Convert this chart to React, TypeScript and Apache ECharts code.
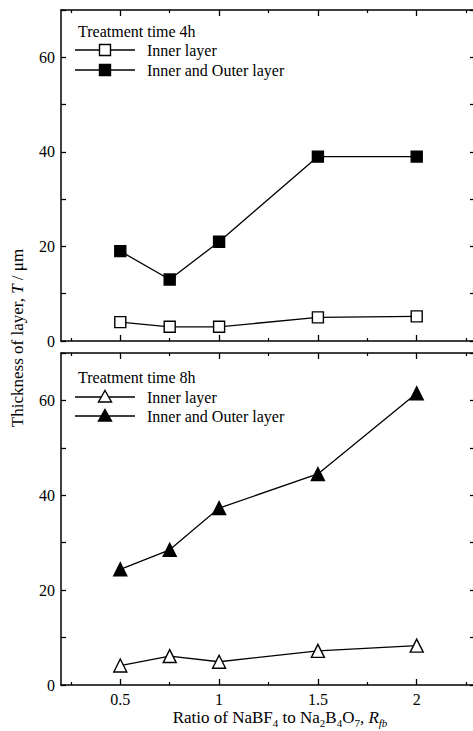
import React, { useEffect, useRef } from "react";
import * as echarts from "echarts";

const ratios = [0.5, 0.75, 1, 1.5, 2];
const inner4h = [4, 3, 3, 5, 5.2];
const outer4h = [19, 13, 21, 39, 39];
const inner8h = [4.1, 6.1, 4.9, 7.2, 8.3];
const outer8h = [24.4, 28.5, 37.3, 44.5, 61.5];
const majorX = [0.5, 1, 1.5, 2];
const minorX = [0.25, 0.75, 1.25, 1.75, 2.25];
const xTickLabels: Record<string, string> = { "0.5": "0.5", "1": "1", "1.5": "1.5", "2": "2" };
const panelTitles = ["Treatment time 4h", "Treatment time 8h"];
const legendNames = ["Inner layer", "Inner and Outer layer"];

const FONT = "Liberation Serif";
const BLACK = "#000";

function pairs(ys: number[]) {
  return ratios.map((x, i) => [x, ys[i]]);
}

export default function App() {
  const ref = useRef<HTMLDivElement>(null);
  useEffect(() => {
    if (!ref.current) return;
    const chart = echarts.init(ref.current, undefined, { renderer: "svg" });

    const grids = [
      { left: 61, top: 10, width: 415, height: 331 },
      { left: 61, top: 353, width: 415, height: 332 },
    ];

    const xAxes: any[] = [];
    const yAxes: any[] = [];
    grids.forEach((_, g) => {
      const base = {
        type: "value",
        gridIndex: g,
        min: 0.2,
        max: 2.3,
        splitLine: { show: false },
      };
      xAxes.push({
        ...base,
        position: "bottom",
        axisLine: { show: true, lineStyle: { color: BLACK, width: 1.5 } },
        axisTick: { show: true, inside: true, length: 6, customValues: majorX, lineStyle: { color: BLACK, width: 1.3 } },
        axisLabel: {
          show: g === 1,
          customValues: majorX,
          formatter: (v: number) => xTickLabels[String(v)] ?? String(v),
          color: BLACK,
          fontFamily: FONT,
          fontSize: 16,
          margin: 6,
        },
      });
      xAxes.push({
        ...base,
        position: "bottom",
        axisLine: { show: false },
        axisTick: { show: true, inside: true, length: 3, customValues: minorX, lineStyle: { color: BLACK, width: 1.2 } },
        axisLabel: { show: false },
      });
      xAxes.push({
        ...base,
        position: "top",
        axisLine: { show: true, lineStyle: { color: BLACK, width: 1.5 } },
        axisTick: { show: true, inside: true, length: 6, customValues: majorX, lineStyle: { color: BLACK, width: 1.3 } },
        axisLabel: { show: false },
      });
      xAxes.push({
        ...base,
        position: "top",
        axisLine: { show: false },
        axisTick: { show: true, inside: true, length: 3, customValues: minorX, lineStyle: { color: BLACK, width: 1.2 } },
        axisLabel: { show: false },
      });

      yAxes.push({
        type: "value",
        gridIndex: g,
        position: "left",
        min: 0,
        max: 70,
        interval: 10,
        splitLine: { show: false },
        axisLine: { show: true, lineStyle: { color: BLACK, width: 1.5 } },
        axisTick: { show: true, inside: true, length: 5, lineStyle: { color: BLACK, width: 1.3 } },
        axisLabel: {
          color: BLACK,
          fontFamily: FONT,
          fontSize: 16,
          margin: 6,
          formatter: (v: number) => (v % 20 === 0 ? String(v) : ""),
        },
      });
      yAxes.push({
        type: "value",
        gridIndex: g,
        position: "right",
        min: 0,
        max: 70,
        interval: 10,
        splitLine: { show: false },
        axisLine: { show: true, lineStyle: { color: BLACK, width: 1.5 } },
        axisTick: { show: true, inside: true, length: 6, lineStyle: { color: BLACK, width: 1.3 } },
        axisLabel: { show: false },
      });
    });

    const lineStyle = { color: BLACK, width: 1.3 };
    const mk = (name: string, g: number, ys: number[], symbol: string, size: number, filled: boolean) => ({
      type: "line",
      name,
      xAxisIndex: g * 4,
      yAxisIndex: g * 2,
      data: pairs(ys),
      symbol,
      symbolSize: size,
      showAllSymbol: true,
      lineStyle,
      itemStyle: { color: filled ? BLACK : "#fff", borderColor: BLACK, borderWidth: 1.4 },
      z: 3,
    });

    const series = [
      mk(legendNames[0] + " 4h", 0, inner4h, "rect", 11, false),
      mk(legendNames[1] + " 4h", 0, outer4h, "rect", 11, true),
      mk(legendNames[0] + " 8h", 1, inner8h, "triangle", 13, false),
      mk(legendNames[1] + " 8h", 1, outer8h, "triangle", 13, true),
    ];

    const txt = (x: number, y: number, text: string) => ({
      type: "text",
      x,
      y,
      style: { text, fill: BLACK, font: `16px "${FONT}"`, textVerticalAlign: "middle", textAlign: "left" },
    });

    const legendItem = (y: number, tri: boolean, filled: boolean, label: string) => {
      const els: any[] = [
        { type: "line", shape: { x1: 75, y1: y, x2: 135, y2: y }, style: { stroke: BLACK, lineWidth: 1.3 } },
      ];
      if (tri) {
        els.push({
          type: "polygon",
          shape: { points: [[105, y - 6.5], [111.5, y + 5], [98.5, y + 5]] },
          style: { fill: filled ? BLACK : "#fff", stroke: BLACK, lineWidth: 1.4 },
        });
      } else {
        els.push({
          type: "rect",
          shape: { x: 99.5, y: y - 5.5, width: 11, height: 11 },
          style: { fill: filled ? BLACK : "#fff", stroke: BLACK, lineWidth: 1.4 },
        });
      }
      els.push(txt(147, y, label));
      return els;
    };

    const graphics: any[] = [
      txt(78, 31, panelTitles[0]),
      ...legendItem(50, false, false, legendNames[0]),
      ...legendItem(70, false, true, legendNames[1]),
      txt(78, 377, panelTitles[1]),
      ...legendItem(397, true, false, legendNames[0]),
      ...legendItem(416, true, true, legendNames[1]),
      {
        type: "text",
        x: 17,
        y: 338,
        rotation: Math.PI / 2,
        style: {
          text: "{a|Thickness of layer, }{i|T}{a| / μm}",
          rich: {
            a: { fontFamily: FONT, fontSize: 17, fill: BLACK },
            i: { fontFamily: FONT, fontSize: 17, fontStyle: "italic", fill: BLACK },
          },
          textAlign: "center",
          textVerticalAlign: "middle",
        },
      },
      {
        type: "text",
        x: 280,
        y: 717,
        style: {
          text: "{a|Ratio of NaBF}{s|4}{a| to Na}{s|2}{a|B}{s|4}{a|O}{s|7}{a|, }{i|R}{si|fb}",
          rich: {
            a: { fontFamily: FONT, fontSize: 17, fill: BLACK, verticalAlign: "bottom" },
            s: { fontFamily: FONT, fontSize: 11, fill: BLACK, verticalAlign: "bottom", padding: [0, 0, -3, 0] },
            i: { fontFamily: FONT, fontSize: 17, fontStyle: "italic", fill: BLACK, verticalAlign: "bottom" },
            si: { fontFamily: FONT, fontSize: 11, fontStyle: "italic", fill: BLACK, verticalAlign: "bottom", padding: [0, 0, -3, 0] },
          },
          textAlign: "center",
          textVerticalAlign: "middle",
        },
      },
    ];

    chart.setOption({
      animation: false,
      backgroundColor: "#fff",
      grid: grids,
      xAxis: xAxes,
      yAxis: yAxes,
      series,
      graphic: graphics,
    });
    return () => chart.dispose();
  }, []);

  return (
    <div
      ref={ref}
      style={{ position: "fixed", left: 0, top: 0, width: 480, height: 731, background: "#fff" }}
    />
  );
}
